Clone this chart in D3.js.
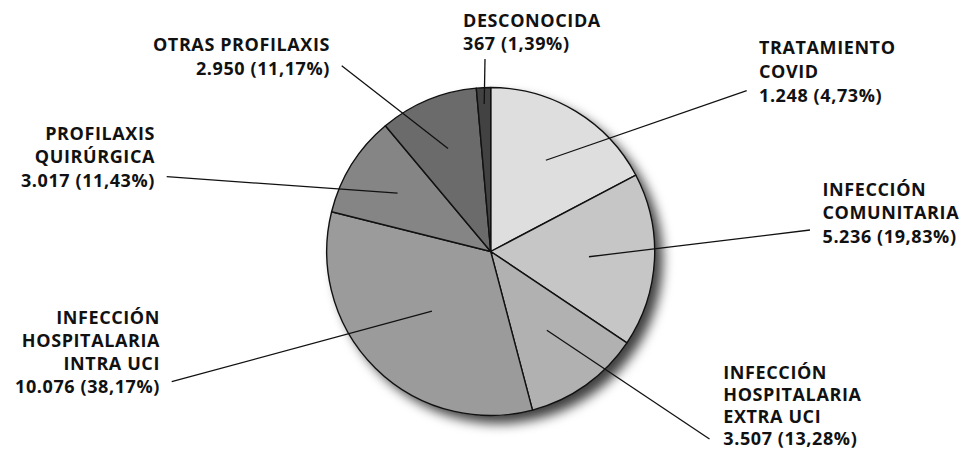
<!DOCTYPE html>
<html>
<head>
<meta charset="utf-8">
<script src="https://cdn.jsdelivr.net/npm/d3@7"></script>
<style>
  html, body { margin: 0; padding: 0; background: #fff; }
  svg { display: block; }
  .lbl { font-family: "Open Sans", sans-serif; font-weight: 700; font-size: 18px; letter-spacing: 0.6px; fill: #111; }
</style>
</head>
<body>
<script>
// categorías (líneas de la etiqueta)
const categories = [
  ["TRATAMIENTO", "COVID"],
  ["INFECCIÓN", "COMUNITARIA"],
  ["INFECCIÓN", "HOSPITALARIA", "EXTRA UCI"],
  ["INFECCIÓN", "HOSPITALARIA", "INTRA UCI"],
  ["PROFILAXIS", "QUIRÚRGICA"],
  ["OTRAS PROFILAXIS"],
  ["DESCONOCIDA"]
];
// valores de las etiquetas
const counts = [1248, 5236, 3507, 10076, 3017, 2950, 367];
const percents = [4.73, 19.83, 13.28, 38.17, 11.43, 11.17, 1.39];
// tamaño de cada porción tal como se dibuja en la figura (estimado, %)
const sliceShares = [17.3, 17.1, 11.5, 33.0, 10.0, 9.7, 1.4];

const colors = ["#dedede", "#c6c6c6", "#b1b1b1", "#9b9b9b", "#858585", "#6b6b6b", "#424242"];

const width = 965;
const height = 450;
const cx = 490.7, cy = 251.5, radius = 164;

// posición de etiquetas y líneas guía (layout)
const layout = [
  { r: 0.65, end: [746.7, 90.7],  x: 759,   y: 53.5,  dy: 24,   anchor: "start" },
  { r: 0.60, end: [810, 230],     x: 822.5, y: 195.5, dy: 23.6, anchor: "start" },
  { r: 0.59, end: [709.5, 439],   x: 723.3, y: 379,   dy: 22,   anchor: "start" },
  { r: 0.51, end: [171.7, 381.7], x: 160,   y: 324.4, dy: 22.9, anchor: "end" },
  { r: 0.67, end: [166.7, 176.7], x: 155,   y: 140,   dy: 23.3, anchor: "end" },
  { r: 0.68, end: [341.7, 65.7],  x: 330,   y: 50.7,  dy: 24.3, anchor: "end" },
  { r: 0.90, end: [485, 59],      x: 463,   y: 26.7,  dy: 23.3, anchor: "start" }
];

const es = d3.formatLocale({ decimal: ",", thousands: ".", grouping: [3], currency: ["€", ""] });
const fmtN = es.format(",d");
const fmtP = es.format(".2f");

const svg = d3.select("body").append("svg").attr("width", width).attr("height", height);

// sombra
const defs = svg.append("defs");
const f = defs.append("filter").attr("id", "shadow")
  .attr("x", "-20%").attr("y", "-20%").attr("width", "150%").attr("height", "150%");
f.append("feDropShadow")
  .attr("dx", 8).attr("dy", 8).attr("stdDeviation", 6)
  .attr("flood-color", "#000").attr("flood-opacity", 0.75);

const pie = d3.pie().sort(null).value(d => d);
const arcs = pie(sliceShares);
const arc = d3.arc().innerRadius(0).outerRadius(radius);

const g = svg.append("g").attr("transform", "translate(" + cx + "," + cy + ")");

g.append("circle").attr("r", radius).attr("fill", "#999").attr("filter", "url(#shadow)");

g.selectAll("path.slice")
  .data(arcs)
  .enter()
  .append("path")
  .attr("class", "slice")
  .attr("d", arc)
  .attr("fill", (d, i) => colors[i])
  .attr("stroke", "#111")
  .attr("stroke-width", 1.4)
  .attr("stroke-linejoin", "round");

/** líneas guía */
const mid = d => (d.startAngle + d.endAngle) / 2;
svg.append("g").selectAll("line")
  .data(arcs)
  .enter()
  .append("line")
  .attr("x1", (d, i) => cx + Math.sin(mid(d)) * radius * layout[i].r)
  .attr("y1", (d, i) => cy - Math.cos(mid(d)) * radius * layout[i].r)
  .attr("x2", (d, i) => layout[i].end[0])
  .attr("y2", (d, i) => layout[i].end[1])
  .attr("stroke", "#111")
  .attr("stroke-width", 1.3);

/** etiquetas */
const labels = svg.append("g").selectAll("text")
  .data(categories)
  .enter()
  .append("text")
  .attr("class", "lbl")
  .attr("text-anchor", (d, i) => layout[i].anchor);

labels.each(function(d, i) {
  const lines = d.concat([fmtN(counts[i]) + " (" + fmtP(percents[i]) + "%)"]);
  d3.select(this).selectAll("tspan")
    .data(lines)
    .enter()
    .append("tspan")
    .attr("x", layout[i].x)
    .attr("y", (t, k) => layout[i].y + k * layout[i].dy)
    .text(t => t);
});
</script>
</body>
</html>
